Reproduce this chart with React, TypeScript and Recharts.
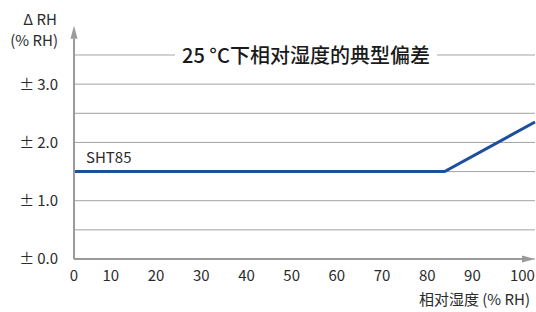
import React from "react";
import {
  CartesianGrid,
  ComposedChart,
  Line,
  ReferenceLine,
  XAxis,
  YAxis,
} from "recharts";

const humidity = [0, 82, 102];
const deviation = [1.5, 1.5, 2.35];
const xTicks = [0, 10, 20, 30, 40, 50, 60, 70, 80, 90, 100];
const yTicks = [0, 0.5, 1, 1.5, 2, 2.5, 3, 3.5];
const yLabelTicks = [0, 1, 2, 3];

const FONT = '"Noto Sans CJK SC", "Noto Sans", sans-serif';
const TEXT = "#2b2b2b";
const AXIS = "#9a9a9a";

const data = humidity.map((h, i) => ({ h, v: deviation[i] }));

const XTick = ({ x, y, payload }: any) => {
  const v = payload.value;
  const first = v === xTicks[0];
  const last = v === xTicks[xTicks.length - 1];
  return (
    <text
      x={last ? x + 9 : x}
      y={y}
      dy={22}
      textAnchor={first ? "middle" : "end"}
      fontSize={15}
      fill={TEXT}
      fontFamily={FONT}
    >
      {v}
    </text>
  );
};

const YTick = ({ x, y, payload }: any) => {
  const v = payload.value;
  if (!yLabelTicks.includes(v)) return null;
  return (
    <text
      x={x}
      y={y}
      dy="0.36em"
      textAnchor="end"
      fontSize={15}
      fill={TEXT}
      fontFamily={FONT}
    >
      {"±\u2009" + v.toFixed(1)}
    </text>
  );
};

const Arrow = (props: any) => {
  const { x1, y1, x2, y2 } = props;
  const len = Math.hypot(x2 - x1, y2 - y1) || 1;
  const ux = (x2 - x1) / len;
  const uy = (y2 - y1) / len;
  const head = 13;
  const half = 3.5;
  const bx = x2 - ux * head;
  const by = y2 - uy * head;
  const pts = `${x2},${y2} ${bx - uy * half},${by + ux * half} ${bx + uy * half},${by - ux * half}`;
  return (
    <g>
      <line x1={x1} y1={y1} x2={bx} y2={by} stroke={AXIS} strokeWidth={2} />
      <polygon points={pts} fill={AXIS} />
    </g>
  );
};

export default function App() {
  return (
    <div
      style={{
        position: "absolute",
        left: 0,
        top: 0,
        width: 536,
        height: 312,
        background: "#fff",
        fontFamily: FONT,
        color: TEXT,
      }}
    >
      <ComposedChart
        width={536}
        height={312}
        data={data}
        margin={{ top: 55, right: 1, left: 0, bottom: 23 }}
      >
        <CartesianGrid vertical={false} stroke="#a3a3a3" strokeWidth={1} />
        <XAxis
          dataKey="h"
          type="number"
          domain={[0, 102]}
          ticks={xTicks}
          axisLine={false}
          tickLine={false}
          tickSize={0}
          tickMargin={0}
          height={30}
          tick={<XTick />}
          interval={0}
        />
        <YAxis
          type="number"
          domain={[0, 3.5]}
          ticks={yTicks}
          axisLine={false}
          tickLine={false}
          tickSize={0}
          tickMargin={16}
          width={74}
          tick={<YTick />}
          interval={0}
        />
        <Line
          dataKey="v"
          stroke="#1e4f9f"
          strokeWidth={3}
          dot={false}
          isAnimationActive={false}
        />
        <ReferenceLine
          segment={[
            { x: 0, y: 0 },
            { x: 0, y: 4 },
          ]}
          ifOverflow="visible"
          shape={Arrow}
        />
        <ReferenceLine
          segment={[
            { x: 0, y: 0 },
            { x: 102, y: 0 },
          ]}
          ifOverflow="visible"
          shape={Arrow}
        />
      </ComposedChart>

      {/* chart title sits on the top grid line with a white backing */}
      <div
        style={{
          position: "absolute",
          left: 175,
          top: 42,
          width: 262,
          height: 26,
          background: "#fff",
          textAlign: "center",
          fontSize: 20,
          fontWeight: 500,
          lineHeight: "26px",
          color: "#1a1a1a",
          whiteSpace: "nowrap",
        }}
      >
        25 °C下相对湿度的典型偏差
      </div>
      <div
        style={{
          position: "absolute",
          right: 536 - 57,
          top: 9,
          fontSize: 15,
          lineHeight: "20px",
          textAlign: "right",
          whiteSpace: "nowrap",
        }}
      >
        Δ RH
      </div>
      <div
        style={{
          position: "absolute",
          right: 536 - 58,
          top: 30,
          fontSize: 15,
          lineHeight: "20px",
          whiteSpace: "nowrap",
        }}
      >
        (% RH)
      </div>
      <div
        style={{
          position: "absolute",
          left: 86,
          top: 147,
          fontSize: 15,
          lineHeight: "20px",
          whiteSpace: "nowrap",
        }}
      >
        SHT85
      </div>
      <div
        style={{
          position: "absolute",
          right: 536 - 530,
          top: 289,
          fontSize: 15,
          lineHeight: "20px",
          whiteSpace: "nowrap",
        }}
      >
        相对湿度 (% RH)
      </div>
    </div>
  );
}
